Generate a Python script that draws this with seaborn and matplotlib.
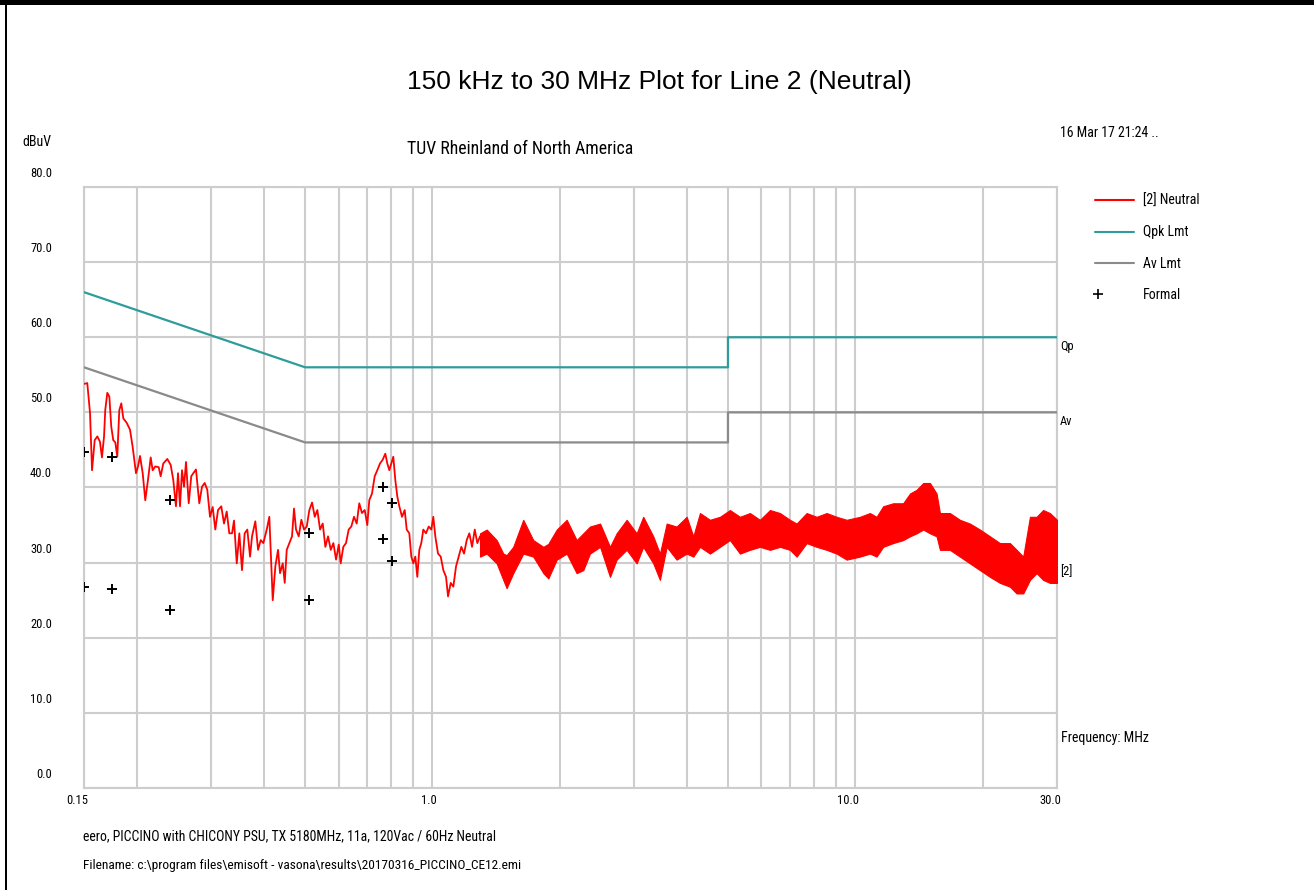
import numpy as np
import pandas as pd
import matplotlib
matplotlib.use("Agg")
import matplotlib.pyplot as plt
import seaborn as sns
from matplotlib import font_manager as fm
from matplotlib.transforms import ScaledTranslation
from matplotlib.lines import Line2D
from matplotlib.legend_handler import HandlerLine2D
from matplotlib.patches import Rectangle
from matplotlib.ticker import NullFormatter

# ---------------- data ----------------
trace_freq = [0.1505, 0.1527, 0.1550, 0.1567, 0.1590, 0.1613, 0.1636, 0.1654, 0.1673, 0.1684,
              0.1703, 0.1722, 0.1740, 0.1759, 0.1779, 0.1798, 0.1818, 0.1838, 0.1858, 0.1893,
              0.1927, 0.1955, 0.1991, 0.2013, 0.2035, 0.2065, 0.2094, 0.2125, 0.2157, 0.2180,
              0.2211, 0.2253, 0.2277, 0.2310, 0.2361, 0.2405, 0.2439, 0.2475, 0.2503, 0.2530,
              0.2558, 0.2586, 0.2614, 0.2653, 0.2690, 0.2720, 0.2760, 0.2810, 0.2852, 0.2894,
              0.2935, 0.2979, 0.3023, 0.3066, 0.3112, 0.3168, 0.3215, 0.3263, 0.3309, 0.3359,
              0.3395, 0.3446, 0.3495, 0.3546, 0.3598, 0.3650, 0.3705, 0.3745, 0.3813, 0.3870,
              0.3927, 0.3983, 0.4057, 0.4115, 0.4192, 0.4252, 0.4315,
              0.4362, 0.4427, 0.4475, 0.4524, 0.4589, 0.4656, 0.4707, 0.4759, 0.4830, 0.4899,
              0.4971, 0.5045, 0.5117, 0.5193, 0.5270, 0.5345, 0.5424, 0.5504, 0.5583, 0.5666,
              0.5750, 0.5832, 0.5918, 0.6006, 0.6069, 0.6156, 0.6247, 0.6339, 0.6430, 0.6525,
              0.6622, 0.6716, 0.6816, 0.6917, 0.7015, 0.7092, 0.7197, 0.7304, 0.7408, 0.7518,
              0.7629, 0.7738, 0.7823, 0.7909, 0.7995, 0.8083, 0.8171, 0.8261, 0.8351, 0.8475,
              0.8600, 0.8695, 0.8819, 0.8915, 0.9013, 0.9112, 0.9211, 0.9312, 0.9414, 0.9517,
              0.9658, 0.9801, 0.9941, 1.0050, 1.0160, 1.0311, 1.0464, 1.0613, 1.0771, 1.0889,
              1.1050, 1.1208, 1.1374, 1.1542, 1.1707, 1.1880, 1.2056, 1.2228, 1.2410, 1.2594,
              1.2773, 1.2962]
trace_db = [53.8, 53.9, 49.9, 42.3, 46.3, 46.8, 46.1, 44.0, 46.8, 50.3,
            52.6, 52.1, 48.1, 46.3, 46.0, 44.1, 50.3, 51.2, 49.2, 48.6,
            47.7, 45.4, 41.9, 42.8, 44.2, 41.9, 38.3, 41.0, 44.0, 42.3,
            42.8, 42.7, 41.5, 43.2, 43.8, 43.0, 41.0, 37.5, 41.9, 37.5,
            42.3, 40.1, 43.4, 37.9, 41.5, 41.9, 42.4, 37.9, 40.1, 40.6,
            39.7, 36.1, 37.4, 34.4, 37.0, 37.5, 35.2, 36.8, 33.9, 33.9,
            35.6, 29.9, 33.9, 29.0, 33.9, 34.4, 30.8, 33.5, 35.5, 31.7,
            33.0, 32.6, 34.4, 36.1, 25.0, 29.5, 31.7,
            28.6, 29.9, 27.3, 31.7, 32.6, 33.5, 37.2, 34.4, 33.5, 35.7,
            34.4, 34.8, 37.0, 38.0, 36.1, 37.0, 34.4, 35.2, 32.1, 33.5,
            31.7, 32.6, 30.4, 32.4, 29.9, 32.1, 32.6, 34.4, 34.8, 36.1,
            35.2, 37.9, 36.6, 37.0, 35.0, 38.3, 39.2, 41.5, 42.3, 43.2,
            43.7, 44.5, 43.2, 42.3, 43.2, 44.1, 41.0, 38.8, 37.5, 36.1,
            37.0, 34.4, 33.9, 30.8, 29.9, 30.8, 28.1, 31.7, 32.6, 34.4,
            33.9, 34.8, 34.4, 36.1, 33.5, 31.2, 30.8, 29.0, 28.1, 25.5,
            27.3, 26.8, 29.5, 30.8, 32.1, 31.2, 33.0, 33.9, 32.1, 34.4,
            32.6, 33.5]

band_freq = [1.296, 1.344, 1.419, 1.471, 1.498, 1.553, 1.640, 1.732, 1.830, 1.880,
             1.968, 2.078, 2.193, 2.274, 2.358, 2.492, 2.630, 2.727, 2.880, 3.041,
             3.152, 3.329, 3.452, 3.581, 3.780, 3.993, 4.140, 4.293, 4.533, 4.787,
             5.054, 5.337, 5.634, 5.950, 6.285, 6.636, 7.007, 7.268, 7.674, 8.103,
             8.556, 9.036, 9.542, 10.26, 10.83, 11.23, 11.64, 12.29, 12.98, 13.47,
             13.97, 14.48, 15.02, 15.57, 15.86, 16.74, 17.68, 18.67, 19.72, 20.83,
             21.99, 23.21, 24.08, 24.96, 25.89, 26.84, 27.82, 28.86, 30.0]
band_upper = [33.9, 34.4, 33.0, 31.2, 31.0, 32.1, 35.7, 33.0, 32.1, 32.5,
              34.4, 35.7, 33.0, 33.9, 34.8, 35.2, 32.1, 33.9, 35.7, 33.9,
              36.1, 33.5, 31.2, 35.2, 34.8, 36.1, 33.5, 36.6, 35.7, 36.1,
              37.0, 36.1, 36.6, 35.7, 37.0, 36.6, 35.7, 35.2, 36.6, 36.1,
              36.6, 36.1, 35.7, 36.1, 36.6, 36.1, 37.5, 37.9, 37.9, 39.2,
              39.7, 40.6, 40.6, 39.2, 36.6, 36.6, 35.7, 35.2, 34.4, 33.5,
              32.6, 32.6, 31.7, 30.8, 36.1, 36.1, 37.0, 36.6, 35.7]
band_lower = [30.8, 31.2, 29.9, 27.7, 26.6, 28.6, 31.2, 30.8, 28.6, 27.9,
              30.4, 31.2, 28.6, 29.0, 31.2, 32.1, 28.1, 30.4, 31.7, 29.9,
              32.1, 29.9, 27.7, 32.1, 30.4, 31.2, 30.8, 32.1, 31.2, 32.1,
              33.0, 31.2, 31.7, 32.1, 31.7, 32.1, 31.7, 30.8, 32.6, 32.1,
              31.7, 31.2, 30.4, 30.8, 31.2, 30.8, 32.1, 32.6, 33.0, 33.5,
              33.9, 34.4, 33.9, 33.5, 31.7, 31.7, 30.8, 29.9, 29.0, 28.1,
              27.3, 26.8, 25.9, 25.9, 27.7, 28.6, 27.7, 27.3, 27.3]

qpk_freq = [0.15, 0.5, 0.5, 5.0, 5.0, 30.0]
qpk_db = [66.0, 56.0, 56.0, 56.0, 60.0, 60.0]
av_freq = [0.15, 0.5, 0.5, 5.0, 5.0, 30.0]
av_db = [56.0, 46.0, 46.0, 46.0, 50.0, 50.0]

formal_freq = [0.150, 0.175, 0.239, 0.511, 0.766, 0.802, 0.766, 0.802, 0.150, 0.175, 0.239, 0.511]
formal_db = [44.7, 44.0, 38.3, 34.0, 40.0, 37.9, 33.2, 30.2, 26.7, 26.5, 23.7, 25.0]

x_major = [0.15, 1.0, 10.0, 30.0]
x_major_labels = ["0.15", "1.0", "10.0", "30.0"]
x_minor = [0.2, 0.3, 0.4, 0.5, 0.6, 0.7, 0.8, 0.9, 2, 3, 4, 5, 6, 7, 8, 9, 20]
y_ticks = [0, 10, 20, 30, 40, 50, 60, 70, 80]
y_labels = ["0.0", "10.0", "20.0", "30.0", "40.0", "50.0", "60.0", "70.0", "80.0"]

legend_labels = ["[2] Neutral", "Qpk Lmt", "Av Lmt", "Formal"]

# ---------------- style ----------------
sns.set_theme(style="white")


def pick(names):
    for n in names:
        try:
            fm.findfont(fm.FontProperties(family=n), fallback_to_default=False)
            return n
        except Exception:
            pass
    return "DejaVu Sans"


wide = pick(["Liberation Sans", "Arial", "DejaVu Sans"])
narrow = pick(["Liberation Sans Narrow", "Arial Narrow", "Roboto Condensed", "Liberation Sans"])
plt.rcParams["font.family"] = [narrow, "DejaVu Sans"]
plt.rcParams["text.color"] = "black"
plt.rcParams["xtick.color"] = "black"
plt.rcParams["ytick.color"] = "black"
plt.rcParams["axes.labelcolor"] = "black"

RED = "#ff0000"
TEAL = "#2f9c9c"
GRAY = "#8a8a8a"
GRID = "#cdcdcd"

W, H = 1314, 890
fig = plt.figure(figsize=(W / 100, H / 100), dpi=100)
fig.patch.set_facecolor("white")
ax = fig.add_axes([84 / W, 1 - 788 / H, (1057 - 84) / W, (788 - 187) / H])
ax.set_xscale("log")
ax.set_xlim(0.15, 30)
ax.set_ylim(0, 80)

# limits
sns.lineplot(x=qpk_freq, y=qpk_db, color=TEAL, lw=1.6, estimator=None, sort=False, ax=ax, zorder=3)
sns.lineplot(x=av_freq, y=av_db, color=GRAY, lw=1.6, estimator=None, sort=False, ax=ax, zorder=3)

# trace
df_low = pd.DataFrame({"f": trace_freq, "db": trace_db})
sns.lineplot(data=df_low, x="f", y="db", color=RED, lw=1.3, estimator=None, sort=False, ax=ax, zorder=4)
ax.fill_between(band_freq, band_lower, band_upper, color=RED, lw=0.8, edgecolor=RED, zorder=4)

# formal markers
sns.scatterplot(x=formal_freq, y=formal_db, marker="+", s=55, color="black", linewidth=1.4, ax=ax, zorder=5)

ax.set_xlabel("")
ax.set_ylabel("")

# ticks / grid
ax.set_xticks(x_major)
ax.set_xticklabels(x_major_labels)
ax.set_xticks(x_minor, minor=True)
ax.xaxis.set_minor_formatter(NullFormatter())
ax.set_yticks(y_ticks)
ax.set_yticklabels(y_labels)
ax.grid(True, which="both", color=GRID, lw=1.5, zorder=0)
ax.set_axisbelow(True)
ax.tick_params(axis="both", which="both", length=0, labelsize=9, colors="black")
ax.tick_params(axis="y", pad=23)
ax.tick_params(axis="x", pad=4)
for sp in ax.spines.values():
    sp.set_color(GRID)
    sp.set_linewidth(1.5)

yoff = ScaledTranslation(0, 15 / 100, fig.dpi_scale_trans)
for lbl in ax.get_yticklabels():
    lbl.set_transform(lbl.get_transform() + yoff)
xoff = ScaledTranslation(4 / 100, 0, fig.dpi_scale_trans)
for lbl in ax.get_xticklabels():
    lbl.set_ha("right")
    lbl.set_transform(lbl.get_transform() + xoff)

# right-hand annotations
ax.annotate("Qp", xy=(30, 60), xytext=(2, -6.5), textcoords="offset points",
            ha="left", va="center", fontsize=9, annotation_clip=False)
ax.annotate("Av", xy=(30, 50), xytext=(2, -6.5), textcoords="offset points",
            ha="left", va="center", fontsize=9, annotation_clip=False)
ax.annotate("[2]", xy=(30, 28.8), xytext=(2, 0), textcoords="offset points",
            ha="left", va="center", fontsize=9, annotation_clip=False)

# texts
fig.text(659 / W, 1 - 82 / H, "150 kHz to 30 MHz Plot for Line 2 (Neutral)",
         ha="center", va="center", fontsize=19, family=[wide, "DejaVu Sans"])
fig.text(520 / W, 1 - 149 / H, "TUV Rheinland of North America",
         ha="center", va="center", fontsize=12.8)
fig.text(22 / W, 1 - 142 / H, "dBuV", ha="left", va="center", fontsize=10)
fig.text(1060 / W, 1 - 133 / H, "16 Mar 17 21:24 ..", ha="left", va="center", fontsize=10)
fig.text(1061 / W, 1 - 738 / H, "Frequency: MHz", ha="left", va="center", fontsize=10)
fig.text(83 / W, 1 - 836 / H,
         "eero, PICCINO with CHICONY PSU, TX 5180MHz, 11a, 120Vac / 60Hz Neutral",
         ha="left", va="center", fontsize=9.9)
fig.text(83 / W, 1 - 866 / H,
         r"Filename: c:\program files\emisoft - vasona\results\20170316_PICCINO_CE12.emi",
         ha="left", va="center", fontsize=9.6)


# legend: the "+" of the last entry sits at the left end of its handle
class LeftMarker(HandlerLine2D):
    def get_xdata(self, legend, xdescent, ydescent, width, height, fontsize):
        x = np.array([-xdescent, -xdescent + 5.0])
        return x, x


handles = [Line2D([], [], color=RED, lw=1.5),
           Line2D([], [], color=TEAL, lw=1.5),
           Line2D([], [], color=GRAY, lw=1.5),
           Line2D([], [], ls="none", marker="+", color="black", ms=7, mew=1.2)]
fig.legend(handles, legend_labels, loc="upper left", bbox_to_anchor=(1095 / W, 1 - 194 / H),
           frameon=False, prop={"family": narrow, "size": 10}, handlelength=2.8,
           handletextpad=0.65, labelspacing=1.25, borderpad=0, borderaxespad=0,
           handler_map={handles[3]: LeftMarker(numpoints=1)})

# page border
fig.add_artist(Rectangle((0, 1 - 5 / H), 1, 5 / H, transform=fig.transFigure,
                         color="black", lw=0))
fig.add_artist(Rectangle((5 / W, 0), 2 / W, 1, transform=fig.transFigure,
                         color="black", lw=0))

fig.savefig("out.png", dpi=100)
